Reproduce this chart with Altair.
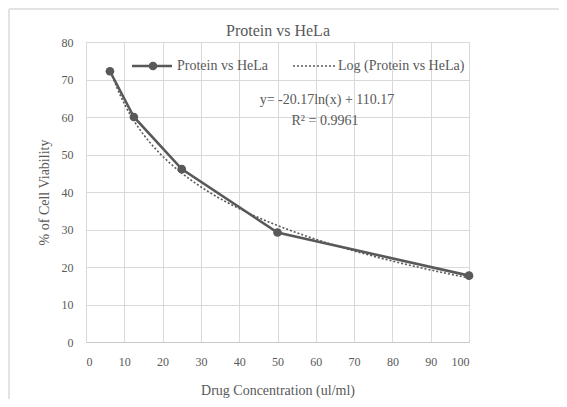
import altair as alt
import pandas as pd

# ---- data ----
conc = [6.25, 12.5, 25, 50, 100]
viability = [72.2, 60.0, 46.1, 29.2, 17.7]
x_ticks = [0, 10, 20, 30, 40, 50, 60, 70, 80, 90, 100]
y_ticks = [0, 10, 20, 30, 40, 50, 60, 70, 80]
chart_title = "Protein vs HeLa"
legend_labels = ["Protein vs HeLa", "Log (Protein vs HeLa)"]
equation_text = "y= -20.17ln(x) + 110.17"
r2_text = "R² = 0.9961"
x_title = "Drug Concentration (ul/ml)"
y_title = "% of Cell Viability"

df = pd.DataFrame({"x": conc, "y": viability})
one = pd.DataFrame({"k": [0]})

GRAY = "#595959"
GRID = "#d9d9d9"
FONT = "Liberation Serif"
W, H = 383, 300

xs = alt.Scale(domain=[0, 100], nice=False, zero=True)
ys = alt.Scale(domain=[0, 80], nice=False, zero=True)

x_enc = alt.X("x:Q", scale=xs, axis=alt.Axis(values=x_ticks, title=x_title, grid=True,
              domain=True, domainColor="#c8c8c8", ticks=False, labelPadding=14,
              titlePadding=16))
y_enc = alt.Y("y:Q", scale=ys, axis=alt.Axis(values=y_ticks, title=y_title, grid=True,
              domain=False, ticks=False, labelPadding=13, titlePadding=10))

base = alt.Chart(df)

trend = base.transform_regression("x", "y", method="log").mark_line(
    color=GRAY, strokeWidth=1.6, strokeDash=[2, 2]).encode(x=x_enc, y=y_enc)
line = base.mark_line(color=GRAY, strokeWidth=2.6).encode(x=x_enc, y=y_enc)
pts = base.mark_point(filled=True, color=GRAY, size=75, opacity=1).encode(x=x_enc, y=y_enc)


def txt(s, x, y, size=14, align="left", font=FONT):
    return alt.Chart(pd.DataFrame({"t": [s]})).mark_text(
        font=font, fontSize=size, color=GRAY, align=align, baseline="middle").encode(
        x=alt.value(x), y=alt.value(y), text="t:N")


# legend (drawn inside plot at top)
leg_line = alt.Chart(one).mark_rule(color=GRAY, strokeWidth=2.6).encode(
    x=alt.value(46), x2=alt.value(86), y=alt.value(24))
leg_pt = alt.Chart(one).mark_point(filled=True, color=GRAY, size=75, opacity=1).encode(
    x=alt.value(67), y=alt.value(24))
leg_dot = alt.Chart(one).mark_rule(color=GRAY, strokeWidth=1.6, strokeDash=[2, 2]).encode(
    x=alt.value(207), x2=alt.value(249), y=alt.value(24))
leg_t1 = txt(legend_labels[0], 91, 24)
leg_t2 = txt(legend_labels[1], 252, 24)

eq = txt(equation_text, 241, 58, align="center")
r2 = txt(r2_text, 239, 79, align="center")
title_mark = txt(chart_title, 192, -11, size=16, align="center", font="Times New Roman")

# outer chart frame
frame_top = alt.Chart(one).mark_rule(color="#e3e3e3", strokeWidth=2).encode(
    x=alt.value(-77), x2=alt.value(480), y=alt.value(-33))
frame_left = alt.Chart(one).mark_rule(color="#e3e3e3", strokeWidth=2).encode(
    x=alt.value(-77), y=alt.value(-33), y2=alt.value(360))

chart = alt.layer(
    trend, line, pts, frame_top, frame_left, leg_line, leg_pt, leg_dot, leg_t1, leg_t2,
    eq, r2, title_mark
).properties(
    width=W, height=H,
    autosize=alt.AutoSizeParams(type="none"),
    padding={"left": 78, "top": 34, "right": 90, "bottom": 57},
).configure_axis(
    gridColor=GRID, gridWidth=1, labelColor=GRAY, labelFont=FONT, labelFontSize=12,
    titleColor=GRAY, titleFont=FONT, titleFontSize=14, titleFontWeight="normal",
).configure_view(stroke=GRID, strokeWidth=1)

chart.save("out.html", embed_options={"renderer": "svg", "actions": False})
